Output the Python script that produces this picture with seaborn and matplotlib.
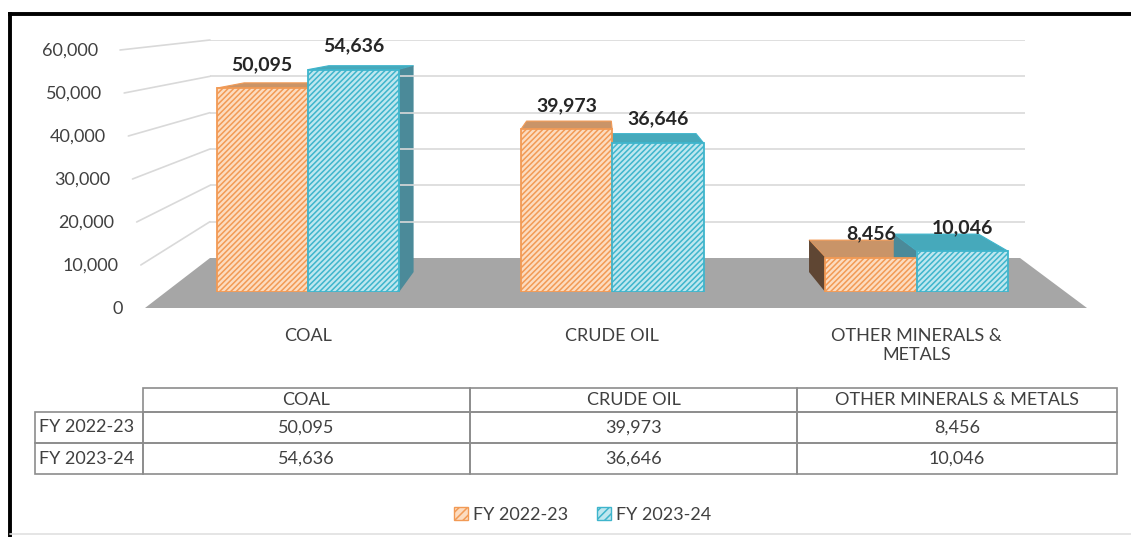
import numpy as np
import pandas as pd
import seaborn as sns
import matplotlib.pyplot as plt
from matplotlib.patches import Polygon, Patch
from matplotlib.table import Table

# ---- data -------------------------------------------------------------
categories = ["COAL", "CRUDE OIL", "OTHER MINERALS & METALS"]
category_labels = ["COAL", "CRUDE OIL", "OTHER MINERALS &\nMETALS"]
years = ["FY 2022-23", "FY 2023-24"]
fy_2022_23 = [50095, 39973, 8456]
fy_2023_24 = [54636, 36646, 10046]
y_ticks = [0, 10000, 20000, 30000, 40000, 50000, 60000]

# ---- style ------------------------------------------------------------
sns.set_theme(style="white")
plt.rcParams["font.family"] = ["Lato", "DejaVu Sans"]
plt.rcParams["hatch.linewidth"] = 1.1

TEXT = "#404040"
face_cols = ["#fcdcc0", "#bfe7ef"]
edge_cols = ["#f29a55", "#3fb5cc"]
top_cols = ["#c99468", "#46a9bb"]
side_cols = ["#5f4633", "#4b8a99"]
FS = 13

W, H = 1131, 537
fig = plt.figure(figsize=(W / 100, H / 100), dpi=100)


def box(x0, y0, x1, y1):
    """Figure rectangle from pixel box (y measured from the top)."""
    return [x0 / W, 1 - y1 / H, (x1 - x0) / W, (y1 - y0) / H]


# canvas in pixel units (top-down) for the chart furniture
ax_frame = fig.add_axes([0, 0, 1, 1])
ax_frame.set_xlim(0, W)
ax_frame.set_ylim(H, 0)
ax_frame.axis("off")

# back wall with its horizontal gridlines
ax_back = fig.add_axes(box(210, 40, 1025, 258))
ax_back.set_ylim(0, 60000)
ax_back.set_xlim(0, 1)
ax_back.set_yticks(y_ticks[1:])
ax_back.set_xticks([])
ax_back.grid(axis="y", color="#d9d9d9", lw=1.2)
ax_back.tick_params(left=False, labelleft=False)
for s in ax_back.spines.values():
    s.set_visible(False)
ax_back.set_facecolor("none")

# bar plane
ax = fig.add_axes(box(145, 20, 1087, 292))
df = pd.DataFrame({
    "category": categories * 2,
    "value": fy_2022_23 + fy_2023_24,
    "year": [years[0]] * 3 + [years[1]] * 3,
})
sns.barplot(data=df, x="category", y="value", hue="year", order=categories,
            hue_order=years, palette=face_cols, width=0.6, saturation=1,
            legend=False, ax=ax)
ax.set_xlim(-0.535, 2.56)
ax.set_ylim(0, 272 / 0.00407)
ax.set_facecolor("none")
for s in ax.spines.values():
    s.set_visible(False)
ax.set_yticks([])
ax.set_xlabel("")
ax.set_ylabel("")
ax.set_xticks(range(len(categories)))
ax.set_xticklabels(category_labels, fontsize=FS, color=TEXT, linespacing=1.25)
ax.tick_params(axis="x", length=0, pad=26)

# ---- floor --------------------------------------------------------------
floor = Polygon([(145, 308), (210, 258), (1020, 258), (1087, 308)],
                closed=True, facecolor="#a6a6a6", edgecolor="none", zorder=1)
ax_frame.add_patch(floor)


# ---- front-left edge, tick labels and slanted connectors ---------------
def front_edge(v):
    return 145 - v / 60000 * 25, 308 - v * 0.0043


to_frame = ax_frame.transData.inverted()
for v in y_ticks:
    xf, yf = front_edge(v)
    ax_frame.text(xf - 22, yf + 1, f"{v:,}", ha="right", va="center",
                  fontsize=FS, color=TEXT)
    if v > 0:
        xb, yb = to_frame.transform(ax_back.transData.transform((0, v)))
        ax_frame.plot([xf, xb], [yf, yb], color="#d9d9d9", lw=1.2, zorder=0.5)

# ---- pseudo 3-D faces of the bars --------------------------------------
VX, VY, K = 600.0, 15.0, 0.072


def back(p):
    return (p[0] + K * (VX - p[0]), p[1] + K * (VY - p[1]))


bar_to_frame = ax.transData + ax_frame.transData.inverted()
for hi, cont in enumerate(ax.containers):
    for ci, bar in enumerate(cont):
        bar.set_facecolor(face_cols[hi])
        bar.set_edgecolor(edge_cols[hi])
        bar.set_hatch("//////")
        bar.set_linewidth(1.3)
        bar.set_zorder(3)
        x0, w, h = bar.get_x(), bar.get_width(), bar.get_height()
        ftl, ftr, fbr, fbl = bar_to_frame.transform(
            [(x0, h), (x0 + w, h), (x0 + w, 0), (x0, 0)])
        btl, btr, bbr, bbl = back(ftl), back(ftr), back(fbr), back(fbl)
        z = 2 + 0.1 * hi
        ax_frame.add_patch(Polygon([ftl, ftr, btr, btl], closed=True,
                                   facecolor=top_cols[hi],
                                   edgecolor=edge_cols[hi], lw=0.8, zorder=z))
        if ftr[0] < VX:
            ax_frame.add_patch(Polygon([ftr, fbr, bbr, btr], closed=True,
                                       facecolor=side_cols[hi], edgecolor="none",
                                       zorder=z))
        if ftl[0] > VX:
            ax_frame.add_patch(Polygon([ftl, fbl, bbl, btl], closed=True,
                                       facecolor=side_cols[hi], edgecolor="none",
                                       zorder=z))
        ax.annotate(f"{int(h):,}", (x0 + w / 2, h), xytext=(0, 17),
                    textcoords="offset points", ha="center", va="center",
                    fontsize=14, fontweight="bold", color="#262626",
                    annotation_clip=False, zorder=5)

# ---- data table -------------------------------------------------------
col_w = [327, 327, 320]
row_label_w = 108
head_h, row_h = 24, 31
tab = Table(ax_frame, bbox=[143 / W, 1 - 474 / H, (1117 - 143) / W, (474 - 388) / H])
tab.auto_set_font_size(False)
for c, name in enumerate(categories):
    tab.add_cell(0, c, col_w[c] / W, head_h / H, text=name, loc="center")
for r, (lab, vals) in enumerate(zip(years, [fy_2022_23, fy_2023_24]), start=1):
    cell = tab.add_cell(r, -1, row_label_w / W, row_h / H, text=lab, loc="left")
    cell.PAD = 0.04
    for c, v in enumerate(vals):
        tab.add_cell(r, c, col_w[c] / W, row_h / H, text=f"{v:,}", loc="center")
for cell in tab.get_celld().values():
    cell.set_edgecolor("#8c8c8c")
    cell.set_linewidth(1.2)
    cell.set_facecolor("none")
    cell.get_text().set_fontsize(FS)
    cell.get_text().set_color(TEXT)
ax_frame.add_table(tab)

# ---- legend -------------------------------------------------------------
handles = [Patch(facecolor=face_cols[i], edgecolor=edge_cols[i], hatch="////",
                 lw=1.0) for i in range(2)]
fig.legend(handles, years, loc="center", bbox_to_anchor=(583 / W, 1 - 515 / H),
           ncol=2, frameon=False, fontsize=FS, labelcolor=TEXT,
           handlelength=0.75, handleheight=0.75, handletextpad=0.3,
           columnspacing=1.6)

# ---- outer frame ------------------------------------------------------
ax_frame.plot([10, W], [14, 14], color="black", lw=2.8, solid_capstyle="projecting")
ax_frame.plot([10, 10], [14, H], color="black", lw=2.8, solid_capstyle="projecting")
ax_frame.plot([10, W], [534, 534], color="#e0e0e0", lw=1.2)

fig.savefig("out.png", dpi=100)
